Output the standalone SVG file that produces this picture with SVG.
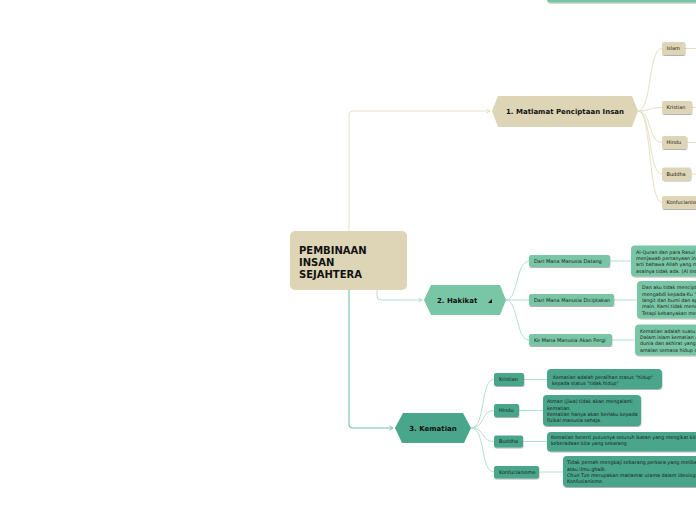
<svg xmlns="http://www.w3.org/2000/svg" width="696" height="520" viewBox="0 0 696 520">
<style>
.t{font-family:"DejaVu Sans",Verdana,sans-serif;fill:#1a1a1a}
.sm{font-size:5px}
.tx{font-size:4.8px}
.b{font-weight:bold;fill:#111}
.beige{fill:#ddd5b5}
.lg{fill:#79c6a6}
.dg{fill:#4aa68a}
.cb{fill:none;stroke:#e7e0c8;stroke-width:1}
.cl{fill:none;stroke:#b4e1ce;stroke-width:1}
.cg{fill:none;stroke:#6fc2a2;stroke-width:1.1}
</style>
<defs>
<filter id="sh" x="-20%" y="-30%" width="140%" height="170%">
<feDropShadow dx="0.4" dy="1" stdDeviation="0.5" flood-color="#000" flood-opacity="0.3"/>
</filter>
<marker id="ab" markerWidth="6" markerHeight="6" refX="4" refY="2.5" orient="auto" markerUnits="userSpaceOnUse">
<path d="M0.5,0.5 L4,2.5 L0.5,4.5" fill="none" stroke="#e2d9bd" stroke-width="0.9"/>
</marker>
<marker id="al" markerWidth="6" markerHeight="6" refX="4" refY="2.5" orient="auto" markerUnits="userSpaceOnUse">
<path d="M0.5,0.5 L4,2.5 L0.5,4.5" fill="none" stroke="#a6dbc5" stroke-width="0.9"/>
</marker>
<marker id="ag" markerWidth="6" markerHeight="6" refX="4" refY="2.5" orient="auto" markerUnits="userSpaceOnUse">
<path d="M0.5,0.5 L4,2.5 L0.5,4.5" fill="none" stroke="#6fc2a2" stroke-width="0.9"/>
</marker>
</defs>
<rect width="696" height="520" fill="#ffffff"/>

<g id="connectors">
<path class="cb" d="M349,231 L349,115 Q349,111 353,111 L490,111" marker-end="url(#ab)"/>
<path class="cl" d="M377,290 L377,296 Q377,300 381,300 L422,300" marker-end="url(#al)"/>
<path class="cg" d="M349,290 L349,424 Q349,428 353,428 L393,428" marker-end="url(#ag)"/>
<path class="cb" d="M638,111 C652,111 648,48.5 662,48.5"/>
<path class="cb" d="M638,111 C650,111 650,107.5 662,107.5"/>
<path class="cb" d="M638,111 C652,111 648,142.5 662,142.5"/>
<path class="cb" d="M638,111 C652,111 648,174 662,174"/>
<path class="cb" d="M638,111 C652,111 648,202.5 662,202.5"/>
<path class="cb" d="M685,48.5 L696,48.5"/>
<path class="cb" d="M692,107.5 L696,107.5"/>
<path class="cb" d="M687,142.5 L696,142.5"/>
<path class="cb" d="M691,174 L696,174"/>
<path class="cl" d="M506,300 C518,300 516,261 529,261"/>
<path class="cl" d="M506,300 L529,300"/>
<path class="cl" d="M506,300 C518,300 516,340 529,340"/>
<path class="cl" d="M610,261 L631,261"/>
<path class="cl" d="M614,300 L637,300"/>
<path class="cl" d="M612,340 L635,340"/>
<path class="cl" d="M471,428 C486,428 480,379.5 494,379.5"/>
<path class="cl" d="M471,428 C486,428 480,410.5 494,410.5"/>
<path class="cl" d="M471,428 C486,428 480,441.5 494,441.5"/>
<path class="cl" d="M471,428 C486,428 480,472 494,472"/>
<path class="cl" d="M524,379.5 L547,379.5"/>
<path class="cl" d="M519,410.5 L543,410.5"/>
<path class="cl" d="M523,441.5 L547,441.5"/>
<path class="cl" d="M539,472 L563,472"/>
</g>

<g id="top-bar"><rect x="547" y="-10" width="160" height="12.5" rx="3" class="lg" filter="url(#sh)"/></g>

<g id="root">
<rect x="290" y="231" width="117" height="59" rx="5" class="beige"/>
<text class="t b" font-size="10"><tspan x="299" y="254">PEMBINAAN</tspan><tspan x="299" y="266">INSAN</tspan><tspan x="299" y="278">SEJAHTERA</tspan></text>
</g>

<g id="b1">
<polygon points="492,111 498,96 632,96 638,111 632,127 498,127" class="beige"/>
<text class="t b" font-size="7" x="565" y="113.5" text-anchor="middle">1. Matlamat Penciptaan Insan</text>
</g>
<g id="b1-islam"><rect x="662" y="42" width="23" height="13" rx="2" class="beige" filter="url(#sh)"/><text class="t sm" x="666.5" y="50.3">Islam</text></g>
<g id="b1-kristian"><rect x="662" y="101" width="30" height="13" rx="2" class="beige" filter="url(#sh)"/><text class="t sm" x="666.5" y="109.3">Kristian</text></g>
<g id="b1-hindu"><rect x="662" y="136" width="25" height="13" rx="2" class="beige" filter="url(#sh)"/><text class="t sm" x="666.5" y="144.3">Hindu</text></g>
<g id="b1-buddha"><rect x="662" y="167.5" width="29" height="13" rx="2" class="beige" filter="url(#sh)"/><text class="t sm" x="666.5" y="175.8">Buddha</text></g>
<g id="b1-konfucianisme"><rect x="662" y="196" width="50" height="13" rx="2" class="beige" filter="url(#sh)"/><text class="t sm" x="666.5" y="204.3">Konfucianisme</text></g>

<g id="b2">
<polygon points="424,300 431,285 500,285 506,300 500,315 431,315" class="lg"/>
<text class="t b" font-size="7" x="437" y="302.5">2. Hakikat</text>
<polygon points="492,299 492,303 488,303" fill="#111"/>
</g>
<g id="b2-datang"><rect x="529" y="255" width="81" height="12" rx="2" class="lg" filter="url(#sh)"/><text class="t sm" x="534" y="262.8">Dari Mana Manusia Datang</text></g>
<g id="b2-datang-text"><rect x="631" y="245.5" width="80" height="31" rx="4" class="lg" filter="url(#sh)"/>
<text class="t tx"><tspan x="636" y="253.8">Al-Quran dan para Rasul telah</tspan><tspan x="636" y="260.1">menjawab pertanyaan ini</tspan><tspan x="636" y="266.4">arti bahawa Allah yang menciptakan</tspan><tspan x="636" y="272.7">asalnya tidak ada. (Al Insan)</tspan></text></g>
<g id="b2-diciptakan"><rect x="529" y="294" width="85" height="12" rx="2" class="lg" filter="url(#sh)"/><text class="t sm" x="534" y="301.8">Dari Mana Manusia Diciptakan</text></g>
<g id="b2-diciptakan-text"><rect x="637" y="281" width="80" height="37.5" rx="4" class="lg" filter="url(#sh)"/>
<text class="t tx"><tspan x="642" y="289.3">Dan aku tidak menciptakan jin</tspan><tspan x="642" y="295.6">mengabdi kepada-Ku "Dan</tspan><tspan x="642" y="301.9">langit dan bumi dan apa yang</tspan><tspan x="642" y="308.2">main. Kami tidak menciptakan</tspan><tspan x="642" y="314.5">Tetapi kebanyakan mereka</tspan></text></g>
<g id="b2-pergi"><rect x="529" y="334" width="83" height="12" rx="2" class="lg" filter="url(#sh)"/><text class="t sm" x="534" y="341.8">Ke Mana Manusia Akan Pergi</text></g>
<g id="b2-pergi-text"><rect x="635" y="324.5" width="80" height="31" rx="4" class="lg" filter="url(#sh)"/>
<text class="t tx"><tspan x="640" y="332.8">Kematian adalah suatu</tspan><tspan x="640" y="339.1">Dalam islam kematian adalah</tspan><tspan x="640" y="345.4">dunia dan akhirat yang</tspan><tspan x="640" y="351.7">amalan semasa hidup di</tspan></text></g>

<g id="b3">
<polygon points="395,428 403,413 463,413 471,428 464,443 402,443" class="dg"/>
<text class="t b" font-size="7" x="433" y="430.5" text-anchor="middle">3. Kematian</text>
</g>
<g id="b3-kristian"><rect x="494" y="373" width="30" height="13" rx="2" class="dg" filter="url(#sh)"/><text class="t sm" x="499" y="381.3">Kristian</text></g>
<g id="b3-kristian-text"><rect x="547" y="369" width="115" height="20" rx="4" class="dg" filter="url(#sh)"/>
<text class="t tx"><tspan x="553" y="378.5">Kematian adalah peralihan status "hidup"</tspan><tspan x="552" y="384.8">kepada status "tidak hidup"</tspan></text></g>
<g id="b3-hindu"><rect x="494" y="404" width="25" height="13" rx="2" class="dg" filter="url(#sh)"/><text class="t sm" x="499" y="412.3">Hindu</text></g>
<g id="b3-hindu-text"><rect x="543" y="395" width="98" height="31" rx="4" class="dg" filter="url(#sh)"/>
<text class="t tx"><tspan x="547" y="403.3">Atman (jiwa) tidak akan mengalami</tspan><tspan x="547" y="409.6">kematian.</tspan><tspan x="547" y="415.9">Kematian hanya akan berlaku kepada</tspan><tspan x="547" y="422.2">fizikal manusia sahaja.</tspan></text></g>
<g id="b3-buddha"><rect x="494" y="435.5" width="29" height="12" rx="2" class="dg" filter="url(#sh)"/><text class="t sm" x="499" y="443.3">Buddha</text></g>
<g id="b3-buddha-text"><rect x="547" y="432" width="160" height="19.5" rx="4" class="dg" filter="url(#sh)"/>
<text class="t tx"><tspan x="551" y="438.6">Kematian bererti putusnya seluruh ikatan yang mengikat kita</tspan><tspan x="551" y="444.9">keberadaan kita yang sekarang</tspan></text></g>
<g id="b3-konfucianisme"><rect x="494" y="466" width="45" height="12.5" rx="2" class="dg" filter="url(#sh)"/><text class="t sm" x="499" y="474">Konfucianisme</text></g>
<g id="b3-konfucianisme-text"><rect x="563" y="456" width="150" height="31" rx="4" class="dg" filter="url(#sh)"/>
<text class="t tx"><tspan x="567" y="464.2">Tidak pernah mengkaji sebarang perkara yang melibatkan</tspan><tspan x="567" y="470.5">atau ilmu ghaib.</tspan><tspan x="567" y="476.8">Chun Tze merupakan matlamat utama dalam ideologi</tspan><tspan x="567" y="483.1">Konfusianisme.</tspan></text></g>
</svg>
